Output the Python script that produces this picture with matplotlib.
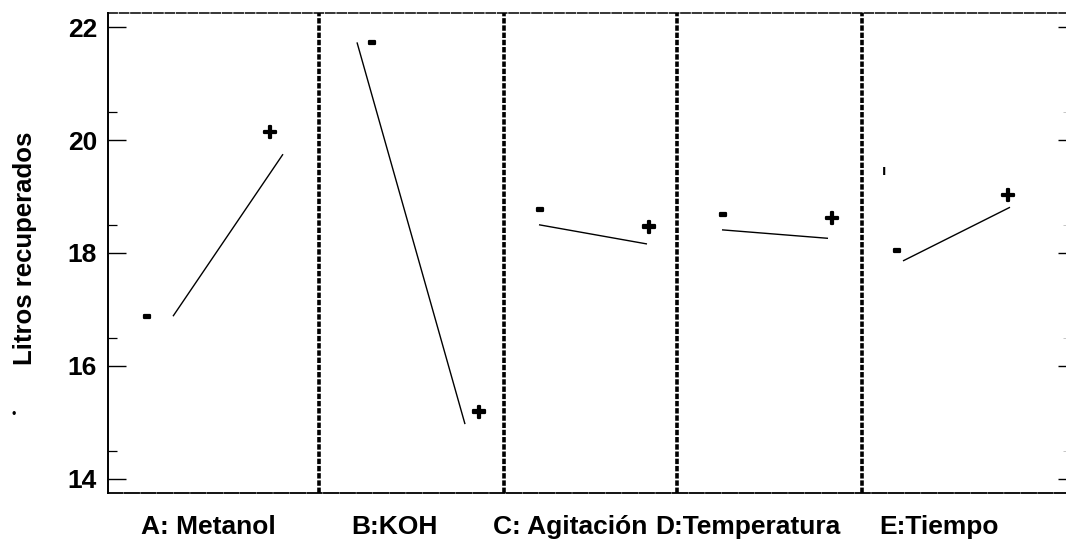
import matplotlib
matplotlib.use("Agg")
import matplotlib.pyplot as plt
import matplotlib.patheffects as pe

plt.rcParams['font.family'] = ['Liberation Sans', 'DejaVu Sans']

# Main effects for litres recovered
factors = ["A: Metanol", "B:KOH", "C: Agitación", "D:Temperatura", "E:Tiempo"]
low_level = [16.88, 21.73, 18.50, 18.41, 17.86]
high_level = [19.75, 14.97, 18.16, 18.26, 18.81]
y_ticks = [14, 16, 18, 20, 22]
y_label = "Litros recuperados"

# Panel layout along the horizontal axis
panel_edges = [0, 211, 396, 569, 754, 958]
x_low = [65, 249, 431, 614, 795]
x_high = [175, 357, 539, 720, 902]
label_x = [100, 286, 462, 640, 831]
minus_offset = [(-26, 0), (15, 0), (1, 16), (1, 16), (-6, 11)]
plus_offset = [(-13, 21), (14, 11), (2, 16), (4, 19), (-2, 11)]

fig = plt.figure(figsize=(10.66, 5.40), dpi=100)
ax = fig.add_axes([108 / 1066, 47 / 540, 958 / 1066, 480 / 540])
ax.set_xlim(panel_edges[0], panel_edges[-1])
ax.set_ylim(13.75, 22.25)

heavy = [pe.withStroke(linewidth=1.6, foreground="black")]
for i in range(len(factors)):
    ax.plot([x_low[i], x_high[i]], [low_level[i], high_level[i]],
            color="black", lw=1.0, solid_capstyle="butt")
    ax.annotate("-", xy=(x_low[i], low_level[i]), xytext=minus_offset[i],
                textcoords="offset pixels", ha="center", va="center",
                fontsize=17, fontweight="bold", path_effects=heavy)
    ax.annotate("+", xy=(x_high[i], high_level[i]), xytext=plus_offset[i],
                textcoords="offset pixels", ha="center", va="center",
                fontsize=17, fontweight="bold", path_effects=heavy)

for edge in panel_edges[1:-1]:
    ax.axvline(edge, color="black", lw=2.6, linestyle=(0, (1.5, 0.5)))

# Left axis ticks
ax.set_yticks(y_ticks)
ax.set_yticks([v + 0.5 for v in y_ticks[:-1]], minor=True)
ax.tick_params(axis="y", which="major", direction="in", length=13, width=1.0,
               pad=8, labelsize=19)
ax.tick_params(axis="y", which="minor", direction="in", length=6.5, width=0.9)
for lab in ax.get_yticklabels():
    lab.set_fontweight("bold")

# Factor labels under each panel
ax.set_xticks(label_x)
ax.set_xticklabels(factors, fontsize=19, fontweight="bold")
ax.tick_params(axis="x", length=0, pad=16)

# Right-hand tick marks
ax2 = ax.twinx()
ax2.set_ylim(ax.get_ylim())
ax2.set_yticks(y_ticks)
ax2.set_yticks([v + 0.5 for v in y_ticks[:-1]], minor=True)
ax2.tick_params(axis="y", which="major", direction="in", length=6, width=1.0,
                labelright=False)
ax2.tick_params(axis="y", which="minor", direction="in", length=2, width=0.6,
                colors="#bbbbbb")
for s in ax2.spines.values():
    s.set_visible(False)

ax.spines["right"].set_visible(False)
ax.spines["left"].set_linewidth(1.4)
ax.spines["top"].set_linewidth(1.1)
ax.spines["top"].set_linestyle((0, (6, 1.5)))
ax.spines["bottom"].set_linewidth(1.3)
ax.spines["bottom"].set_linestyle((0, (8, 1.2)))

fig.text(25 / 1066, 1 - 248 / 540, y_label, rotation=90, ha="center",
         va="center", fontsize=18.5, fontweight="bold")

# small stray marks
ax.text(776, 19.45, "ı", ha="center", va="center", fontsize=11, fontweight="bold")
fig.text(14 / 1066, 1 - 415 / 540, "•", ha="center", va="center", fontsize=9)

fig.savefig("out.png", dpi=100)
